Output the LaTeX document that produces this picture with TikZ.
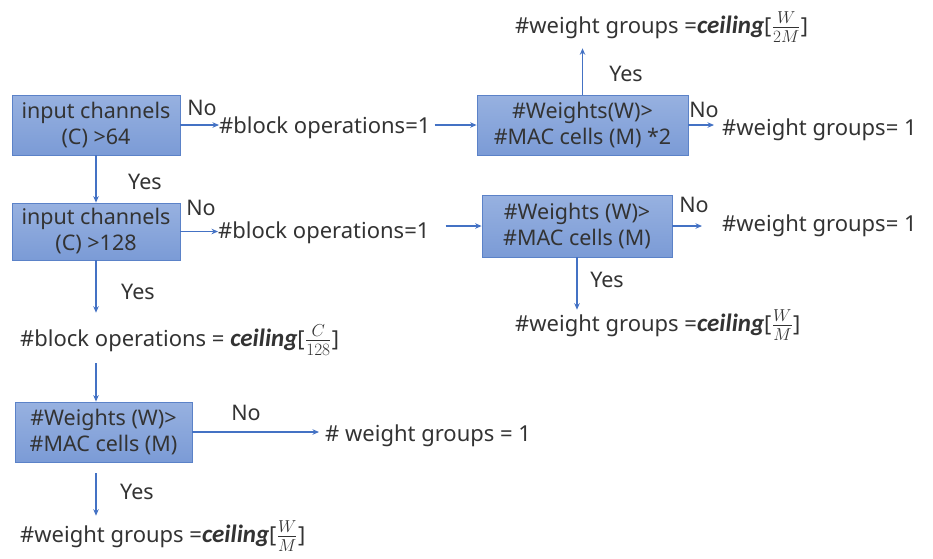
\documentclass[tikz,border=0pt]{standalone}
\usepackage{fontspec}
\setmainfont{Noto Sans}
\newfontfamily\calibri{Carlito}
\usetikzlibrary{arrows.meta}
\definecolor{boxline}{HTML}{5B82C8}
\definecolor{boxtop}{HTML}{97B1E0}
\definecolor{boxbot}{HTML}{7B9BD6}
\definecolor{arrc}{HTML}{4472C4}
\definecolor{txt}{HTML}{333333}
\newcommand{\ceil}[2]{{\fontsize{25}{26}\selectfont\calibri\bfseries\itshape ceiling}[\kern0.5pt{\fontsize{26}{26}\selectfont$\frac{#1}{#2}$}\kern0.5pt]}
\tikzset{
  dbox/.style={draw=boxline, line width=0.8pt, top color=boxtop, bottom color=boxbot,
    align=center, inner sep=0pt, text=txt, font=\fontsize{21.5}{26}\selectfont},
  lbl/.style={inner sep=0pt, text=txt, font=\fontsize{22}{26}\selectfont, anchor=west},
  yn/.style={inner sep=0pt, text=txt, font=\fontsize{21.5}{24}\selectfont},
  arr/.style={draw=arrc, line width=1.6pt, -{Stealth[length=6.5pt,width=5.5pt]}}
}
\begin{document}
\begin{tikzpicture}[x=1pt,y=-1pt]
\useasboundingbox (0,0) rectangle (933,558);
% boxes
\node[dbox, minimum width=168pt, minimum height=60pt] (b1) at (96,125) {input channels\\(C) >64};
\node[dbox, minimum width=168pt, minimum height=57pt] (b3) at (96,231.5) {input channels\\(C) >128};
\node[dbox, minimum width=211pt, minimum height=60pt] (b2) at (582.5,125) {\#Weights(W)>\\\#MAC cells (M) *2};
\node[dbox, minimum width=190pt, minimum height=62pt] (b4) at (577,226) {\#Weights (W)>\\\#MAC cells (M)};
\node[dbox, minimum width=177pt, minimum height=60pt] (b5) at (103.5,432) {\#Weights (W)>\\\#MAC cells (M)};
% texts
\node[lbl] (bo1) at (219,128) {\#block operations=1};
\node[lbl] (bo2) at (218,233) {\#block operations=1};
\node[lbl] (wg2M) at (515,27) {\#weight groups =\ceil{W}{2M}};
\node[lbl] (wg1a) at (722,130) {\#weight groups= 1};
\node[lbl] (wg1b) at (722,226) {\#weight groups= 1};
\node[lbl] (wgM1) at (515,325) {\#weight groups =\ceil{W}{M}};
\node[lbl] (boC) at (20,340) {\#block operations = \ceil{C}{128}};
\node[lbl] (wg1c) at (325,436) {\# weight groups = 1};
\node[lbl] (wgM2) at (20,536) {\#weight groups =\ceil{W}{M}};
% yes/no labels
\node[yn] (n1) at (202,108) {No};
\node[yn] (y1) at (145,182) {Yes};
\node[yn] (n2) at (201,208) {No};
\node[yn] (y2) at (138,292) {Yes};
\node[yn] (n3) at (704,110) {No};
\node[yn] (y3) at (626,74) {Yes};
\node[yn] (n4) at (694,205) {No};
\node[yn] (y4) at (607,280) {Yes};
\node[yn] (n5) at (246,413) {No};
\node[yn] (y5) at (137,492) {Yes};
% connectors
\draw[arr] (b1.east) -- (bo1.west |- b1.east);
\draw[arr] ([xshift=4pt]bo1.east |- b1.east) -- (b2.west);
\draw[arr] (b2.north) -- ([yshift=-6pt]b2.north |- wg2M.south);
\draw[arr] (b2.east) -- ([xshift=-8pt]wg1a.west |- b2.east);
\draw[arr] (b1.south) -- (b3.north);
\draw[arr] (b3.east) -- (bo2.west |- b3.east);
\draw[arr] ([xshift=16pt]bo2.east |- b4.west) -- (b4.west);
\draw[arr] (b4.east) -- ([xshift=-20pt]wg1b.west |- b4.east);
\draw[arr] (b4.south) -- ([yshift=0pt]b4.south |- wgM1.north);
\draw[arr] (b3.south) -- ([yshift=12pt]b3.south |- boC.north);
\draw[arr] ([yshift=-8pt]b3.south |- boC.south) -- (b5.north -| b3.south);
\draw[arr] ([yshift=-11pt]b3.south |- b5.south) -- ([yshift=5pt]b3.south |- wgM2.north);
\draw[arr] (b5.east) -- ([xshift=-6pt]wg1c.west |- b5.east);
\end{tikzpicture}
\end{document}
